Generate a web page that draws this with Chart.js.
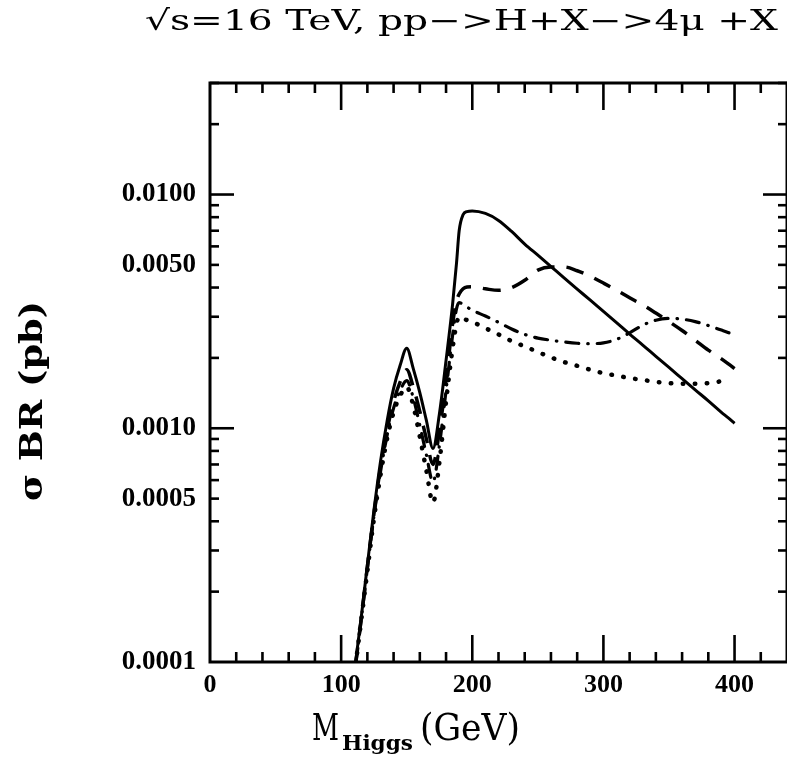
<!DOCTYPE html>
<html>
<head>
<meta charset="utf-8">
<style>
  html, body { margin: 0; padding: 0; background: #fff; }
  canvas { display: block; }
</style>
<script src="https://cdn.jsdelivr.net/npm/chart.js@4.4.1/dist/chart.umd.min.js"></script>
</head>
<body>
<canvas id="c" width="787" height="760"></canvas>
<script>
// ---- data ----
const massGeV = [111, 115, 120, 125, 130, 135, 140, 145, 150, 155, 160, 165, 170, 175, 180, 185, 188, 190, 193, 196, 200,
                 210, 220, 230, 240, 250, 260, 270, 280, 290, 300, 310, 320, 330, 340, 350, 360, 370, 380, 390, 395, 400];

const solidXsec = [1.0e-4, 1.5e-4, 2.6e-4, 4.45e-4, 7.2e-4, 1.07e-3, 1.48e-3, 1.86e-3, 2.2e-3, 1.8e-3, 1.42e-3, 1.08e-3, 8.2e-4, 1.16e-3, 1.95e-3, 3.4e-3, 5.1e-3, 7.0e-3, 8.2e-3, 8.45e-3, 8.5e-3,
                   8.3e-3, 7.75e-3, 6.95e-3, 6.14e-3, 5.5e-3, 4.92e-3, 4.4e-3, 3.94e-3, 3.53e-3, 3.16e-3, 2.83e-3, 2.53e-3, 2.27e-3, 2.03e-3, 1.82e-3, 1.63e-3, 1.46e-3, 1.31e-3, 1.17e-3, 1.11e-3, 1.05e-3];

const dashedXsec = [0.97e-4, 1.48e-4, 2.55e-4, 4.3e-4, 6.8e-4, 9.8e-4, 1.3e-3, 1.58e-3, 1.78e-3, 1.5e-3, 1.18e-3, 9.0e-4, 7.0e-4, 9.8e-4, 1.6e-3, 2.8e-3, 3.5e-3, 3.75e-3, 3.95e-3, 4.02e-3, 4.03e-3,
                    3.95e-3, 3.89e-3, 4.0e-3, 4.3e-3, 4.75e-3, 4.9e-3, 4.9e-3, 4.72e-3, 4.47e-3, 4.18e-3, 3.9e-3, 3.62e-3, 3.37e-3, 3.11e-3, 2.86e-3, 2.62e-3, 2.38e-3, 2.16e-3, 1.98e-3, 1.89e-3, 1.8e-3];

const dashDotXsec = [0.97e-4, 1.47e-4, 2.5e-4, 4.2e-4, 6.5e-4, 9.3e-4, 1.22e-3, 1.45e-3, 1.6e-3, 1.35e-3, 1.03e-3, 7.7e-4, 5.9e-4, 8.5e-4, 1.45e-3, 2.5e-3, 3.25e-3, 3.45e-3, 3.38e-3, 3.3e-3, 3.2e-3,
                     3.02e-3, 2.84e-3, 2.66e-3, 2.52e-3, 2.43e-3, 2.38e-3, 2.34e-3, 2.31e-3, 2.3e-3, 2.32e-3, 2.4e-3, 2.56e-3, 2.76e-3, 2.9e-3, 2.95e-3, 2.93e-3, 2.86e-3, 2.75e-3, 2.63e-3, 2.57e-3, 2.5e-3];

const dottedXsec = [0.97e-4, 1.46e-4, 2.45e-4, 4.1e-4, 6.3e-4, 9.0e-4, 1.17e-3, 1.38e-3, 1.5e-3, 1.25e-3, 9.2e-4, 6.6e-4, 4.8e-4, 7.2e-4, 1.3e-3, 2.2e-3, 2.8e-3, 3.0e-3, 2.95e-3, 2.9e-3, 2.85e-3,
                    2.68e-3, 2.52e-3, 2.36e-3, 2.24e-3, 2.12e-3, 2.01e-3, 1.92e-3, 1.85e-3, 1.78e-3, 1.72e-3, 1.68e-3, 1.64e-3, 1.61e-3, 1.58e-3, 1.56e-3, 1.55e-3, 1.55e-3, 1.56e-3, 1.59e-3, 1.61e-3, null];

// tick labels and tick marks
const xTickLabels = [0, 100, 200, 300, 400];
const yTickLabels = [0.0001, 0.0005, 0.001, 0.005, 0.01];
const xMajorTicks = [100, 200, 300, 400];
const xMinorTicks = [20, 40, 60, 80, 120, 140, 160, 180, 220, 240, 260, 280, 320, 340, 360, 380, 420];
const yMajorTicks = [0.001, 0.01];
const yMinorTicks = [0.0002, 0.0003, 0.0004, 0.0005, 0.0006, 0.0007, 0.0008, 0.0009,
                     0.002, 0.003, 0.004, 0.005, 0.006, 0.007, 0.008, 0.009, 0.02, 0.03];

const titleText = '\u221As=16 TeV, pp\u2212>H+X\u2212>4\u03BC +X';
const yTitleText = '\u03C3 BR (pb)';

// ---- helpers ----
function pts(ys) { return massGeV.map((m, i) => ({ x: m, y: ys[i] })); }

function fitText(ctx, text, left, baseline, width, font) {
  ctx.save();
  ctx.font = font;
  ctx.textAlign = 'left';
  ctx.textBaseline = 'alphabetic';
  const w = ctx.measureText(text).width;
  ctx.translate(left, baseline);
  ctx.scale(width / w, 1);
  ctx.fillText(text, 0, 0);
  ctx.restore();
}

const framePlugin = {
  id: 'frame',
  afterDatasetsDraw(chart) {
    const { ctx, chartArea: a, scales: { x, y } } = chart;
    ctx.save();
    ctx.strokeStyle = '#000';
    ctx.lineCap = 'butt';
    ctx.lineWidth = 3;
    ctx.strokeRect(a.left, a.top, a.right - a.left, a.bottom - a.top);
    ctx.lineWidth = 2.6;
    const seg = (x1, y1, x2, y2) => { ctx.beginPath(); ctx.moveTo(x1, y1); ctx.lineTo(x2, y2); ctx.stroke(); };
    xMajorTicks.forEach(v => { const p = x.getPixelForValue(v); seg(p, a.bottom, p, a.bottom - 27); seg(p, a.top, p, a.top + 27); });
    xMinorTicks.forEach(v => { const p = x.getPixelForValue(v); seg(p, a.bottom, p, a.bottom - 10); seg(p, a.top, p, a.top + 10); });
    yMajorTicks.forEach(v => { const p = y.getPixelForValue(v); seg(a.left, p, a.left + 24, p); seg(a.right, p, a.right - 24, p); });
    yMinorTicks.forEach(v => { const p = y.getPixelForValue(v); seg(a.left, p, a.left + 9, p); seg(a.right, p, a.right - 9, p); });
    ctx.restore();
  },
  afterDraw(chart) {
    const ctx = chart.ctx;
    ctx.save();
    ctx.fillStyle = '#000';
    // main title
    fitText(ctx, titleText, 145, 30, 633, '28px "DejaVu Serif"');
    // x axis title with subscript
    fitText(ctx, 'M', 312, 740, 27, '37px "DejaVu Serif"');
    fitText(ctx, 'Higgs', 342, 750, 71, 'bold 21px "DejaVu Serif"');
    fitText(ctx, '(GeV)', 420, 740, 100, '37px "DejaVu Serif"');
    // y axis title (rotated)
    ctx.save();
    ctx.translate(42, 401);
    ctx.rotate(-Math.PI / 2);
    fitText(ctx, yTitleText, -100, 0, 200, 'bold 31px "DejaVu Serif"');
    ctx.restore();
    ctx.restore();
  }
};

const common = { pointRadius: 0, borderColor: '#000', fill: false, cubicInterpolationMode: 'monotone', spanGaps: false };

new Chart(document.getElementById('c'), {
  type: 'line',
  data: {
    datasets: [
      { ...common, label: 'solid', data: pts(solidXsec), borderWidth: 3 },
      { ...common, label: 'dashed', data: pts(dashedXsec), borderWidth: 3.5, borderDash: [18, 12] },
      { ...common, label: 'dash-dot', data: pts(dashDotXsec), borderWidth: 3.2, borderDash: [13, 9, 0.5, 9], borderCapStyle: 'round' },
      { ...common, label: 'dotted', data: pts(dottedXsec), borderWidth: 4.5, borderDash: [0.5, 11.5], borderCapStyle: 'round' }
    ]
  },
  options: {
    responsive: false,
    animation: false,
    devicePixelRatio: 1,
    layout: { padding: { top: 83, right: 0, left: 0, bottom: 0 } },
    plugins: { legend: { display: false }, title: { display: false }, tooltip: { enabled: false } },
    scales: {
      x: {
        type: 'linear', min: 0, max: 440,
        afterFit(s) { s.height = 98; },
        afterBuildTicks(s) { s.ticks = xTickLabels.map(v => ({ value: v })); },
        grid: { display: false, drawTicks: false },
        border: { display: false },
        ticks: { color: '#000', padding: 8, maxRotation: 0, autoSkip: false,
                 font: { family: 'Liberation Serif', weight: 'bold', size: 26 },
                 callback: v => String(v) }
      },
      y: {
        type: 'logarithmic', min: 0.0001, max: 0.03,
        afterFit(s) { s.width = 210; },
        afterBuildTicks(s) { s.ticks = yTickLabels.map(v => ({ value: v })); },
        grid: { display: false, drawTicks: false },
        border: { display: false },
        ticks: { color: '#000', padding: 14, autoSkip: false,
                 font: { family: 'Liberation Serif', weight: 'bold', size: 27 },
                 callback: v => Number(v).toFixed(4) }
      }
    }
  },
  plugins: [framePlugin]
});
</script>
</body>
</html>
